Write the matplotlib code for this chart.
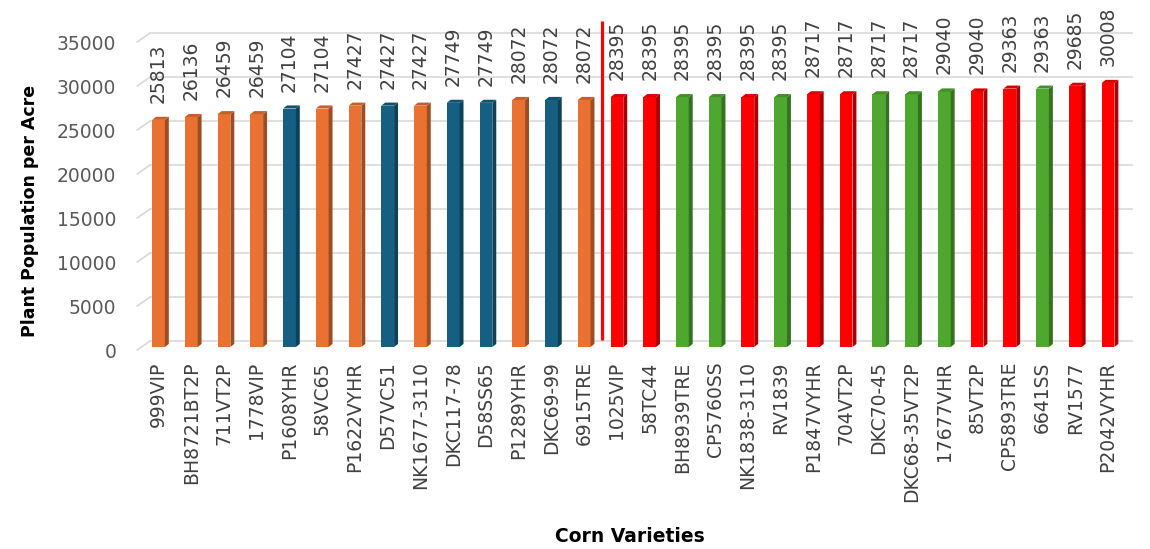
import matplotlib.pyplot as plt
import matplotlib.transforms as mtransforms
from matplotlib.patches import Polygon
import numpy as np

# Corn varieties and plant population per acre
varieties = ['999VIP', 'BH8721BT2P', '711VT2P', '1778VIP', 'P1608YHR', '58VC65',
             'P1622VYHR', 'D57VC51', 'NK1677-3110', 'DKC117-78', 'D58SS65',
             'P1289YHR', 'DKC69-99', '6915TRE', '1025VIP', '58TC44', 'BH8939TRE',
             'CP5760SS', 'NK1838-3110', 'RV1839', 'P1847VYHR', '704VT2P',
             'DKC70-45', 'DKC68-35VT2P', '17677VHR', '85VT2P', 'CP5893TRE',
             '6641SS', 'RV1577', 'P2042VYHR']
population = [25813, 26136, 26459, 26459, 27104, 27104, 27427, 27427, 27427,
              27749, 27749, 28072, 28072, 28072, 28395, 28395, 28395, 28395,
              28395, 28395, 28717, 28717, 28717, 28717, 29040, 29040, 29363,
              29363, 29685, 30008]
groups = ['A', 'A', 'A', 'A', 'B', 'A', 'A', 'B', 'A', 'B', 'B', 'A', 'B', 'A',
          'C', 'C', 'D', 'D', 'C', 'D', 'C', 'C', 'D', 'D', 'D', 'C', 'C', 'D',
          'C', 'C']
y_ticks = [0, 5000, 10000, 15000, 20000, 25000, 30000, 35000]

group_colors = {'A': '#E97132', 'B': '#156082', 'C': '#FF0000', 'D': '#4EA72E'}


def shade(color, f):
    rgb = np.array(plt.matplotlib.colors.to_rgb(color))
    return tuple(rgb * f)


fig = plt.figure(figsize=(11.5, 5.49), dpi=100)
ax = fig.add_axes([0.1179, 0.3519, 0.8684, 0.6171])
ax.set_xlim(-0.7, 29.8)
ax.set_ylim(-1000, 37500)

w = 0.39     # front face width
dx = 0.12    # depth offset x
dy = 350     # depth offset y
dg = 680     # back wall offset for gridlines
grid_c = '#D9D9D9'

# back wall gridlines with slanted floor stub
for v in y_ticks:
    ax.plot([-0.26, 29.73], [v + dg, v + dg], color=grid_c, lw=1.2, zorder=0, clip_on=False)
    ax.plot([-0.65, -0.26], [v - 340, v + dg], color=grid_c, lw=1.2, zorder=0, clip_on=False)

x = np.arange(len(varieties))
cols = [group_colors[g] for g in groups]
ax.bar(x, population, width=w, color=cols, zorder=2)

for xi, v, c in zip(x, population, cols):
    side = [(xi + w / 2, 0), (xi + w / 2 + dx, dy), (xi + w / 2 + dx, v + dy), (xi + w / 2, v)]
    top = [(xi - w / 2, v), (xi + w / 2, v), (xi + w / 2 + dx, v + dy), (xi - w / 2 + dx, v + dy)]
    ax.add_patch(Polygon(side, closed=True, color=shade(c, 0.68), lw=0, zorder=2))
    ax.add_patch(Polygon(top, closed=True, color=shade(c, 0.85), lw=0, zorder=2))
    ax.annotate(str(v), (xi, v + dy), xytext=(0, 10), textcoords='offset points',
                rotation=90, ha='center', va='bottom', fontsize=13.5, color='#404040')

# divider line
ax.vlines(13.56, 800, 37000, color='red', lw=2.3, zorder=3)

ax.set_xticks(x)
ax.set_xticklabels(varieties, rotation=90, fontsize=13.5, color='#404040')
ax.set_yticks(y_ticks)
ax.set_yticklabels([str(v) for v in y_ticks], fontsize=13.5, color='#595959')
ax.tick_params(axis='both', length=0)
ax.tick_params(axis='x', pad=4)
ax.tick_params(axis='y', pad=14)
offset = mtransforms.ScaledTranslation(0, -3 / 100, fig.dpi_scale_trans)
for lab in ax.get_yticklabels():
    lab.set_transform(lab.get_transform() + offset)

for s in ax.spines.values():
    s.set_visible(False)

fig.text(30 / 1150, 1 - 211 / 549, 'Plant Population per Acre', rotation=90,
         ha='center', va='center', fontsize=12.5, fontweight='bold', color='black')
fig.text(630 / 1150, 1 - 537 / 549, 'Corn Varieties', ha='center', va='center',
         fontsize=13.5, fontweight='bold', color='black')

fig.savefig('out.png', dpi=100)
